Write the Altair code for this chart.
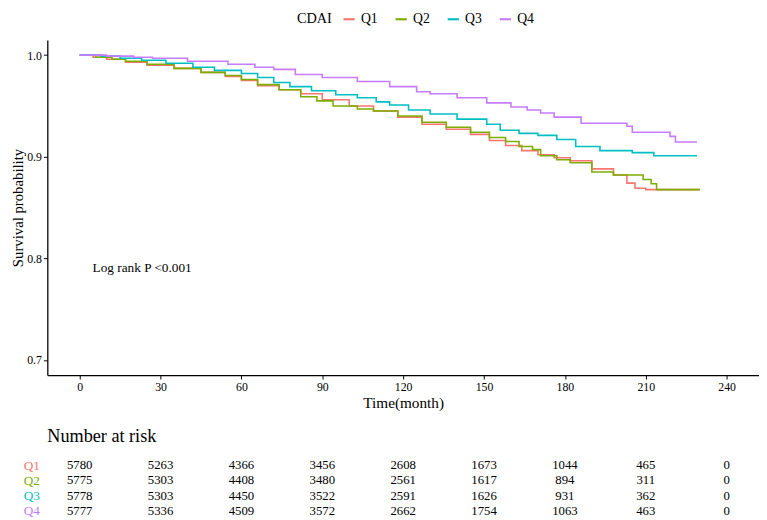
import altair as alt
import pandas as pd

FONT = "Liberation Serif"

groups = ["Q1", "Q2", "Q3", "Q4"]
colors = ["#F8766D", "#7CAE00", "#00BFC4", "#C77CFF"]

# Kaplan-Meier curves (months, survival probability)
q1_time = [0, 5, 10, 17, 25, 35, 45, 54, 60, 66, 74, 82, 90, 100, 109, 118, 127, 136,
           145, 152, 158, 164, 170, 176, 182, 190, 198, 203, 206, 210, 230]
q1_surv = [1.0, 0.998, 0.996, 0.993, 0.990, 0.987, 0.983, 0.979, 0.975, 0.970, 0.966,
           0.962, 0.956, 0.950, 0.945, 0.939, 0.932, 0.927, 0.922, 0.916, 0.911, 0.906,
           0.902, 0.899, 0.896, 0.888, 0.882, 0.874, 0.869, 0.8676, 0.8676]

q2_time = [0, 6, 12, 17, 25, 35, 45, 54, 60, 66, 74, 82, 88, 94, 103, 109, 118, 127, 136,
           145, 152, 158, 163, 168, 171, 177, 182, 190, 198, 205, 209, 212, 214, 230]
q2_surv = [1.0, 0.998, 0.996, 0.994, 0.991, 0.987, 0.983, 0.980, 0.976, 0.971, 0.966,
           0.959, 0.955, 0.950, 0.947, 0.945, 0.940, 0.934, 0.929, 0.924, 0.919, 0.915,
           0.910, 0.907, 0.901, 0.897, 0.894, 0.885, 0.882, 0.882, 0.8775, 0.8734,
           0.8676, 0.8676]

q3_time = [0, 8, 15, 23, 32, 42, 50, 60, 66, 72, 78, 86, 95, 103, 110, 115, 122, 130,
           140, 151, 156, 163, 170, 177, 184, 193, 205, 213, 229]
q3_surv = [1.0, 0.999, 0.997, 0.995, 0.992, 0.988, 0.985, 0.982, 0.978, 0.973, 0.969,
           0.965, 0.961, 0.958, 0.954, 0.951, 0.946, 0.942, 0.937, 0.932, 0.926, 0.923,
           0.921, 0.917, 0.910, 0.906, 0.904, 0.901, 0.901]

q4_time = [0, 10, 20, 27, 40, 55, 65, 72, 80, 90, 103, 115, 125, 130, 140, 151, 160,
           166, 171, 176, 186, 203, 205, 219, 221, 229]
q4_surv = [1.0, 0.999, 0.998, 0.997, 0.994, 0.991, 0.988, 0.986, 0.981, 0.978, 0.974,
           0.969, 0.964, 0.962, 0.958, 0.953, 0.949, 0.946, 0.943, 0.939, 0.933, 0.930,
           0.924, 0.920, 0.9145, 0.9145]

# number at risk table
risk_times = [0, 30, 60, 90, 120, 150, 180, 210, 240]
q1_risk = [5780, 5263, 4366, 3456, 2608, 1673, 1044, 465, 0]
q2_risk = [5775, 5303, 4408, 3480, 2561, 1617, 894, 311, 0]
q3_risk = [5778, 5303, 4450, 3522, 2591, 1626, 931, 362, 0]
q4_risk = [5777, 5336, 4509, 3572, 2662, 1754, 1063, 463, 0]

pval_label = "Log rank P <0.001"
pval_time = 4.8
pval_surv = 0.79

km_rows = []
for g, ts, ss in zip(groups, [q1_time, q2_time, q3_time, q4_time],
                     [q1_surv, q2_surv, q3_surv, q4_surv]):
    for t, s in zip(ts, ss):
        km_rows.append({"group": g, "time": t, "surv": s})
km_df = pd.DataFrame(km_rows)

risk_rows = []
for g, ns in zip(groups, [q1_risk, q2_risk, q3_risk, q4_risk]):
    for t, n in zip(risk_times, ns):
        risk_rows.append({"group": g, "time": t, "n": str(n)})
risk_df = pd.DataFrame(risk_rows)

pval_df = pd.DataFrame({"time": [pval_time], "surv": [pval_surv], "label": [pval_label]})

x_scale = alt.Scale(domain=[-12, 252], nice=False, zero=False)

lines = alt.Chart(km_df).mark_line(interpolate="step-after", strokeWidth=1.6).encode(
    x=alt.X("time:Q", scale=x_scale,
            axis=alt.Axis(values=risk_times, title="Time(month)", labelFontSize=12,
                          titleFontSize=15.5, titleFontWeight="normal", tickSize=4,
                          labelPadding=3, titlePadding=3)),
    y=alt.Y("surv:Q", scale=alt.Scale(domain=[0.685, 1.015], nice=False, zero=False),
            axis=alt.Axis(values=[0.7, 0.8, 0.9, 1.0], format=".1f",
                          title="Survival probability", labelFontSize=12,
                          titleFontSize=15, titleFontWeight="normal", tickSize=4,
                          labelPadding=2, titlePadding=1)),
    color=alt.Color("group:N", scale=alt.Scale(domain=groups, range=colors),
                    legend=alt.Legend(title="CDAI", orient="none", direction="horizontal",
                                      legendX=254, legendY=-28, titleOrient="left",
                                      symbolType="stroke", symbolSize=130,
                                      symbolStrokeWidth=2.2, labelFontSize=14,
                                      titleFontSize=14.5, titleFontWeight="normal",
                                      titlePadding=10, labelOffset=5, columnPadding=12)),
)

pval = alt.Chart(pval_df).mark_text(align="left", baseline="middle", fontSize=13.5,
                                    font=FONT, color="black").encode(
    x="time:Q", y="surv:Q", text="label:N"
)

km = alt.layer(lines, pval).properties(width=724, height=341)

color_expr = "".join(
    f"datum.value == '{g}' ? '{c}' : " for g, c in zip(groups, colors)
) + "'black'"

table = alt.Chart(risk_df).mark_text(fontSize=13, font=FONT, color="black").encode(
    x=alt.X("time:Q", scale=x_scale, axis=None),
    y=alt.Y("group:N", scale=alt.Scale(domain=groups, paddingInner=0, paddingOuter=0),
            axis=alt.Axis(title=None, domain=False, ticks=False, labelPadding=8,
                          labelFontSize=13.5, labelColor=alt.expr(color_expr))),
    text="n:N",
).properties(
    width=724, height=62,
    title=alt.Title("Number at risk", anchor="start", frame="group", fontSize=18.5,
                    fontWeight="normal", offset=12, font=FONT, color="black"),
)

chart = alt.vconcat(km, table, spacing=16).resolve_scale(
    color="independent"
).properties(
    padding={"left": 3, "top": 0, "right": 0, "bottom": 0}
).configure(
    font=FONT
).configure_view(
    stroke=None
).configure_axis(
    grid=False, domainColor="black", domainWidth=1.3, tickColor="black",
    labelColor="black", titleColor="black", labelFont=FONT, titleFont=FONT,
    titleFontWeight="normal"
).configure_legend(
    labelFont=FONT, titleFont=FONT, labelColor="black", titleColor="black"
)

chart.save("out.html", embed_options={"renderer": "svg", "actions": False})
